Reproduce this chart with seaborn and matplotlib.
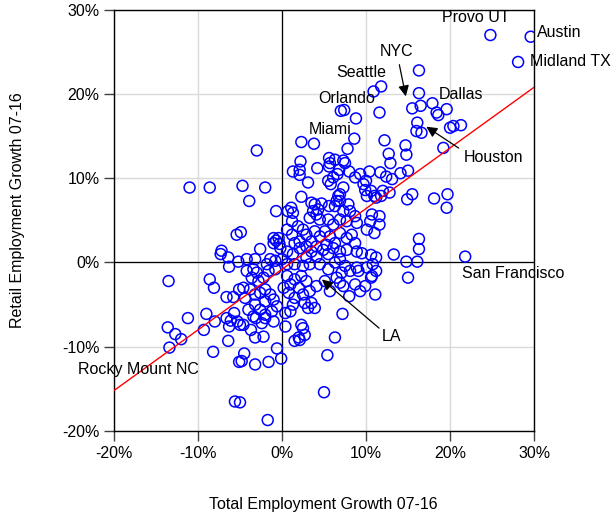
import numpy as np
import pandas as pd
import matplotlib
matplotlib.use("Agg")
import matplotlib.pyplot as plt
from matplotlib.ticker import FuncFormatter, MultipleLocator
import seaborn as sns

# Total vs retail employment growth 07-16 (percent)
# top / right outliers
total_top = [24.8, 29.6, 28.1, 16.3, 11.8, 10.9, 16.3, 15.5, 16.5, 17.9, 18.4, 18.6,
             19.6, 16.1, 16.0, 16.6, 20.0, 20.4, 21.3, 11.6, 8.8, 7.0, 7.4]
retail_top = [27.0, 26.8, 23.8, 22.8, 20.9, 20.3, 20.1, 18.3, 18.6, 18.9, 17.8, 17.5,
              18.2, 16.6, 15.6, 15.4, 16.0, 16.2, 16.3, 17.8, 17.1, 18.0, 18.1]

# band around Miami
total_mid = [8.6, 2.3, 3.8, -3.0, 7.8, 2.2, 5.6, 6.3, 7.3, 7.5, 5.7]
retail_mid = [14.7, 14.3, 14.1, 13.3, 13.5, 12.0, 12.4, 12.2, 12.1, 11.8, 11.8]

# right hand side
total_right = [12.2, 14.7, 14.8, 12.7, 12.9, 19.2, 14.1, 15.0, 12.4, 13.1, 12.0, 12.8,
               14.9, 15.5, 18.1, 19.7, 19.6, 16.3, 16.3, 13.3, 14.8, 16.1, 21.8, 15.0]
retail_right = [14.5, 13.9, 12.8, 12.9, 11.8, 13.6, 10.6, 10.9, 10.2, 9.9, 8.5, 8.3,
                7.5, 8.1, 7.6, 8.1, 6.5, 2.8, 1.6, 0.95, 0.1, 0.1, 0.7, -1.8]

# upper part of the main cluster
total_core_hi = [-4.7, -2.0, -3.9, -5.4, -4.9, -2.6, -1.0, -0.7, -0.4, -1.0,
                 -0.3, -0.7, 1.3, 2.1, 2.1, 3.1, 4.2, 5.6, 6.8, 6.6,
                 6.1, 5.5, 5.8, 7.3, 8.0, 8.7, 9.3, 10.0, 9.7, 10.4,
                 11.7, 9.9, 10.6, 11.0, 11.2, 11.8, 2.3, 1.1, 1.3, 0.7,
                 1.2, 3.5, 3.9, 4.3, 3.7, 4.7, 4.1, 3.3, 4.5, 5.6,
                 6.3, 6.9, 6.7, 7.9, 8.1, 7.3, 5.5, 6.1, 6.9, 7.7,
                 8.7, 8.9, 10.7, 11.6, 10.5, 10.1, 11.0, 11.6, 0.6, 1.2,
                 1.9, 2.5, 1.5, 2.1, 2.9, 3.5, 3.9, 4.5, 5.1, 5.7,
                 6.9, 7.7, 8.3, 8.7, 6.3, 5.3, 10.1, 6.9, 6.5, 2.9,
                 4.1]
retail_core_hi = [9.1, 8.9, 7.3, 3.3, 3.6, 1.6, 2.9, 2.6, 2.9, 2.3,
                  2.2, 6.1, 10.8, 10.4, 11.0, 9.5, 11.2, 11.4, 11.0, 10.5,
                  10.1, 9.7, 9.3, 8.9, 10.8, 10.1, 10.5, 9.7, 9.3, 10.8,
                  10.7, 8.6, 8.5, 7.9, 7.7, 7.9, 7.8, 6.5, 5.9, 6.1,
                  4.9, 7.1, 6.9, 6.3, 6.1, 7.0, 5.7, 5.3, 5.1, 6.7,
                  6.7, 7.3, 7.9, 6.9, 6.1, 6.1, 5.1, 4.5, 5.1, 4.9,
                  5.5, 4.7, 5.7, 5.5, 4.9, 3.9, 3.5, 4.5, 3.9, 3.3,
                  4.3, 3.9, 2.3, 2.5, 3.3, 2.5, 3.7, 3.1, 3.7, 3.1,
                  3.5, 2.9, 3.3, 2.3, 2.3, 2.1, 7.9, 8.1, 7.3, 1.9,
                  1.9]

# left hand side
total_left = [-11.0, -8.6, -7.2, -7.3, -6.4, -6.3, -5.2, -13.5, -8.6, -8.1,
              -6.6, -5.8, -5.1, -11.2, -9.0, -8.0, -9.3, -13.6, -12.7, -12.0,
              -13.4, -6.6, -6.1, -6.3, -5.7, -5.3, -5.0, -6.4, -8.2, -5.1,
              -5.6, -5.0]
retail_left = [8.9, 8.9, 1.4, 1.0, 0.6, -0.5, 0.1, -2.2, -2.0, -3.0,
               -4.1, -4.1, -3.2, -6.6, -6.1, -7.0, -8.0, -7.7, -8.5, -9.1,
               -10.1, -6.6, -6.9, -7.6, -6.0, -7.0, -7.4, -9.3, -10.6, -11.8,
               -16.5, -16.6]

# lower part of the cluster
total_low = [7.2, 6.3, 5.4, 5.0, -1.7, -0.6, -0.1, -1.6, -3.2, -4.5, -4.8,
             2.3, 2.5, 2.0, 1.5, 2.1, 2.7, 0.4, -3.2, -2.2, -3.7, -3.1,
             -2.0, -4.6, 7.3, 8.0, 9.9, 9.3, 11.1, 10.7, 5.7, 6.9]
retail_low = [-6.1, -8.9, -11.0, -15.4, -18.7, -10.2, -11.4, -11.8, -12.1, -10.8, -11.7,
              -7.4, -7.8, -8.9, -9.3, -9.2, -8.6, -7.6, -8.9, -8.8, -8.0, -6.6,
              -6.6, -7.4, -2.8, -4.0, -2.8, -3.4, -3.8, -1.6, -3.4, -2.4]

# around the origin
total_zero = [-4.2, -3.2, -1.4, -0.8, -1.8, -3.4, -3.0, -4.2, -1.6, -0.8,
              -2.2, -3.6, -2.8, -4.6, -3.8, -3.2, -4.4, -2.6, -2.0, -1.4,
              -2.0, -1.0, -3.2, -2.6, -4.0, -3.4, -2.0, -1.2, -0.6, -2.4,
              -1.0, 0.4, 1.0, 1.3, 0.6, 1.0, 0.2, 1.5, 2.3, 2.9,
              2.0, 0.8, 1.5, 2.5, 3.3, 4.1, 2.7, 3.5, 3.9, 3.1,
              0.6, 1.3, 2.1, 2.9, 3.5, 4.1, 3.3, 2.5, 1.5, 4.9,
              5.5, 6.1, 6.9, 4.5, 5.5, 6.3, 6.9, 7.5, 8.1, 8.9,
              7.1, 6.5, 5.1, 8.7, 7.7, 8.9, 9.5, 10.6, 11.2, 10.8,
              10.1, 11.2, 10.6, 9.1, 0.0, -0.2, 0.6]
retail_zero = [0.4, 0.4, 0.4, 0.2, -0.2, -0.8, -1.2, -1.0, -1.0, -0.8,
               -1.8, -1.8, -2.2, -3.0, -3.2, -3.8, -4.2, -3.6, -3.2, -3.8,
               -4.6, -4.4, -5.0, -5.6, -5.6, -6.4, -6.2, -5.8, -5.2, -7.2,
               -7.0, -6.0, -5.8, -5.0, -1.6, -2.6, -3.0, -2.0, -1.6, -2.2,
               -3.0, -3.6, -4.2, -3.8, -3.4, -2.8, -4.8, -4.8, -5.4, -5.4,
               1.3, 1.0, 1.7, 0.6, 1.3, 0.7, -0.2, -0.4, -0.2, 1.5,
               1.0, 1.7, 1.3, -0.2, -0.8, 0.0, 0.4, -0.4, -1.0, -0.6,
               -1.2, -1.8, -2.2, -2.6, 1.5, 1.3, 1.1, 0.9, 0.6, -0.2,
               -0.6, -1.0, -1.8, -1.0, 0.4, 1.7, -0.2]

# trend line
fit_slope = 0.72
fit_intercept = -0.8

# city labels (text position in data units)
city_names = ["Provo UT", "Austin", "Midland TX", "NYC", "Seattle", "Orlando", "Miami",
              "Dallas", "Houston", "San Francisco", "LA", "Rocky Mount NC"]
city_text_x = [19.0, 30.4, 29.5, 11.6, 6.4, 4.3, 3.2, 18.6, 21.6, 21.4, 11.9, -24.3]
city_text_y = [29.1, 27.3, 23.8, 25.1, 22.6, 19.5, 15.8, 20.0, 12.5, -1.3, -8.8, -12.7]
arrow_names = ["NYC", "Houston", "LA"]
arrow_from_x = [13.9, 21.3, 11.8]
arrow_from_y = [23.8, 13.4, -8.0]
arrow_to_x = [14.8, 16.9, 4.5]
arrow_to_y = [19.4, 16.3, -1.8]

df = pd.DataFrame({
    "total": total_top + total_mid + total_right + total_core_hi + total_left + total_low + total_zero,
    "retail": retail_top + retail_mid + retail_right + retail_core_hi + retail_left + retail_low + retail_zero,
})

sns.set_style("white")
plt.rcParams["font.family"] = ["Liberation Sans", "DejaVu Sans"]
plt.rcParams["text.color"] = "black"
plt.rcParams["axes.labelcolor"] = "black"

fig = plt.figure(figsize=(6.16, 5.14), dpi=100)
ax = fig.add_axes([0.185, 0.1615, 0.682, 0.8195])

ax.set_xlim(-20, 30)
ax.set_ylim(-20, 30)
ax.xaxis.set_major_locator(MultipleLocator(10))
ax.yaxis.set_major_locator(MultipleLocator(10))
pct = FuncFormatter(lambda v, pos: f"{v:.0f}%")
ax.xaxis.set_major_formatter(pct)
ax.yaxis.set_major_formatter(pct)

ax.grid(True, color="#d9d9d9", lw=1.0, zorder=0)
ax.set_axisbelow(True)
ax.axhline(0, color="black", lw=0.9, zorder=1)
ax.axvline(0, color="black", lw=0.9, zorder=1)

sns.scatterplot(data=df, x="total", y="retail", ax=ax, marker="o", s=62,
                facecolor="none", edgecolor="#0000ff", linewidth=1.1, zorder=2)

xs = np.array(ax.get_xlim())
ax.plot(xs, fit_slope * xs + fit_intercept, color="red", lw=1.0, zorder=3)

for name, tx, ty in zip(city_names, city_text_x, city_text_y):
    ax.text(tx, ty, name, fontsize=11.5, color="black", ha="left", va="center",
            clip_on=False, zorder=4)

for name, fx, fy, tx, ty in zip(arrow_names, arrow_from_x, arrow_from_y, arrow_to_x, arrow_to_y):
    ax.annotate("", xy=(tx, ty), xytext=(fx, fy),
                arrowprops=dict(arrowstyle="-|>", color="black", lw=0.9, mutation_scale=16),
                zorder=4)

for side in ["left", "bottom", "top", "right"]:
    ax.spines[side].set_color("black")
    ax.spines[side].set_linewidth(1.0)
ax.tick_params(axis="both", direction="out", length=7, width=1, color="#404040",
               labelcolor="black", labelsize=11.5,
               bottom=True, left=True, top=False, right=False)

ax.set_xlabel("Total Employment Growth 07-16", fontsize=11.5)
ax.set_ylabel("Retail Employment Growth 07-16", fontsize=11.5)
ax.xaxis.set_label_coords(0.498, -0.157)
ax.yaxis.set_label_coords(-0.212, 0.525)

fig.savefig("out.png", dpi=100)
